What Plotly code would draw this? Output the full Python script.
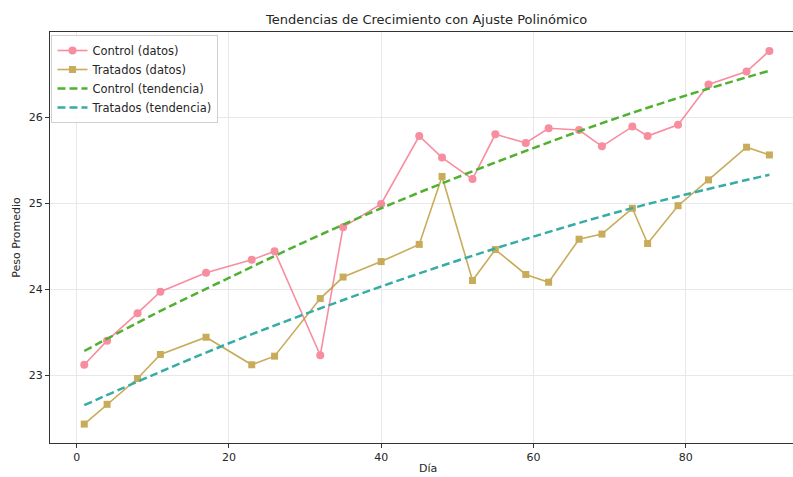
import plotly.graph_objects as go

# ---- data ----
dias = [1, 4, 8, 11, 17, 23, 26, 32, 35, 40, 45, 48, 52, 55, 59, 62, 66, 69, 73, 75, 79, 83, 88, 91]
control = [23.12, 23.40, 23.72, 23.97, 24.19, 24.34, 24.44, 23.23, 24.72, 24.99, 25.78, 25.53,
           25.28, 25.80, 25.70, 25.87, 25.85, 25.66, 25.89, 25.78, 25.91, 26.38, 26.53, 26.77]
tratados = [22.43, 22.66, 22.96, 23.24, 23.44, 23.12, 23.22, 23.89, 24.14, 24.32, 24.52, 25.31,
            24.10, 24.46, 24.17, 24.08, 24.58, 24.64, 24.94, 24.53, 24.97, 25.27, 25.65, 25.56]

dias_tendencia = [1, 10, 20, 30, 40, 50, 60, 70, 80, 91]
control_tendencia = [23.28, 23.70, 24.13, 24.55, 24.94, 25.30, 25.64, 25.96, 26.25, 26.54]
tratados_tendencia = [22.65, 23.00, 23.37, 23.71, 24.03, 24.33, 24.61, 24.87, 25.10, 25.33]

x_ticks = [0, 20, 40, 60, 80]
y_ticks = [23, 24, 25, 26]

FONT = "DejaVu Sans"

fig = go.Figure()
fig.add_trace(go.Scatter(
    x=dias, y=control, mode="lines+markers", name="Control (datos)",
    line=dict(color="#f77189", width=1.6), marker=dict(symbol="circle", size=8, color="#f77189"),
    opacity=0.8))
fig.add_trace(go.Scatter(
    x=dias, y=tratados, mode="lines+markers", name="Tratados (datos)",
    line=dict(color="#bb9832", width=1.6), marker=dict(symbol="square", size=7, color="#bb9832"),
    opacity=0.8))
fig.add_trace(go.Scatter(
    x=dias_tendencia, y=control_tendencia, mode="lines", name="Control (tendencia)",
    line=dict(color="#50b131", width=2.5, dash="8px,4px", shape="spline")))
fig.add_trace(go.Scatter(
    x=dias_tendencia, y=tratados_tendencia, mode="lines", name="Tratados (tendencia)",
    line=dict(color="#36ada4", width=2.5, dash="8px,4px", shape="spline")))

fig.update_layout(
    width=793, height=477,
    margin=dict(l=50, r=0, t=32, b=34, autoexpand=False),
    paper_bgcolor="white", plot_bgcolor="white",
    font=dict(family=FONT, size=11, color="#262626"),
    title=dict(text="Tendencias de Crecimiento con Ajuste Polinómico",
               x=0.538, xanchor="center", y=1 - 19 / 477, yanchor="middle", yref="container",
               font=dict(family=FONT, size=13, color="#262626")),
    showlegend=True,
    legend=dict(x=0.002, y=0.9927, xanchor="left", yanchor="top",
                bgcolor="rgba(255,255,255,0.85)", bordercolor="#d0d0d0", borderwidth=1,
                font=dict(family=FONT, size=11.5, color="#262626"),
                tracegroupgap=0, itemwidth=30),
    annotations=[dict(text="Día", xref="x domain", yref="y domain", x=0.509, y=-0.063,
                      xanchor="center", yanchor="middle", showarrow=False,
                      font=dict(family=FONT, size=11, color="#262626"))],
)
fig.update_xaxes(
    range=[-3.5, 94.1], tickvals=x_ticks, ticks="outside", ticklen=4, tickcolor="#333",
    showline=True, linecolor="#333", linewidth=1.2, mirror=True,
    showgrid=True, gridcolor="#e8e8e8", gridwidth=1, zeroline=False,
    automargin=False,
)
fig.update_yaxes(
    range=[22.21, 26.99], tickvals=y_ticks, ticks="outside", ticklen=4, tickcolor="#333",
    showline=True, linecolor="#333", linewidth=1.2,
    showgrid=True, gridcolor="#e8e8e8", gridwidth=1, zeroline=False,
    automargin=False,
    title=dict(text="Peso Promedio", standoff=5, font=dict(family=FONT, size=11)),
)

fig.write_html("out.html")
